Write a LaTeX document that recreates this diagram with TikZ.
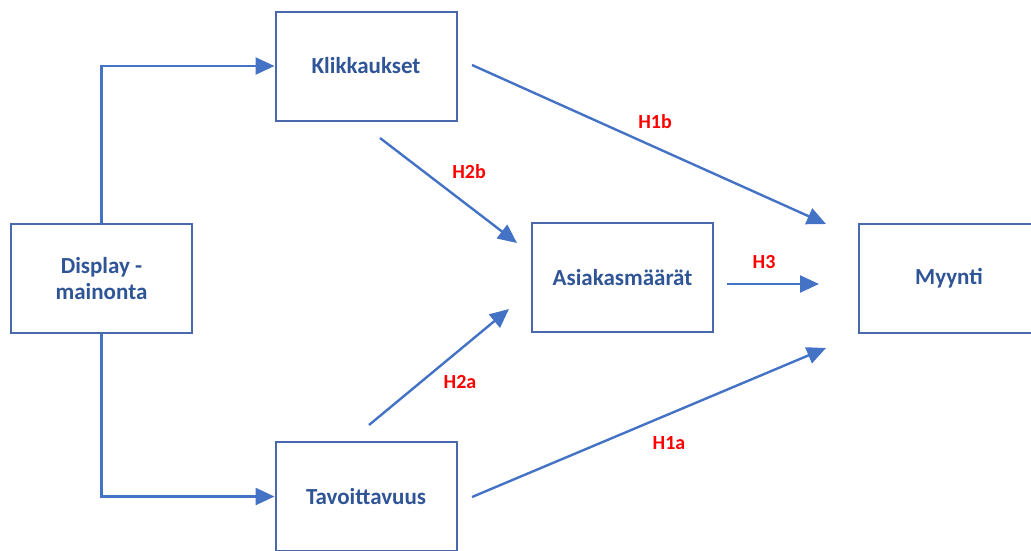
\documentclass[tikz,border=0pt]{standalone}
\usepackage{fontspec}
\setmainfont{Carlito}
\usetikzlibrary{arrows.meta}
\definecolor{boxline}{HTML}{4A69AC}
\definecolor{boxtext}{HTML}{2F5597}
\definecolor{arrowc}{HTML}{4472C4}
\definecolor{hred}{HTML}{FF0000}
\tikzset{
  box/.style={draw=boxline, line width=2pt, fill=white, minimum width=181pt, minimum height=109pt,
    inner sep=0pt, align=center, text=boxtext, font=\fontsize{23}{26}\selectfont\bfseries},
  conn/.style={draw=arrowc, line width=2.4pt, -{Triangle[length=19pt,width=17pt]}},
  hlab/.style={text=hred, font=\fontsize{20}{22}\selectfont\bfseries, inner sep=0pt}
}
\begin{document}
\begin{tikzpicture}[x=1pt,y=-1pt]
\useasboundingbox (0,0) rectangle (1031,550);
\clip (0,0) rectangle (1031,550);
\node[box] (disp) at (101.5,278.5) {Display -\\mainonta};
\node[box] (klik) at (366,66) {Klikkaukset};
\node[box] (asia) at (622.5,277.5) {Asiakasmäärät};
\node[box] (myyn) at (949,278) {Myynti};
\node[box] (tav) at (366,496.5) {Tavoittavuus};

\coordinate (k1s) at (380,138);
\coordinate (k1e) at (517,243);
\coordinate (t1s) at (369,425);
\coordinate (t1e) at (509,309);
\coordinate (k2s) at (472,65);
\coordinate (k2e) at (826,224);
\coordinate (t2s) at (472,497);
\coordinate (t2e) at (826,348);
\coordinate (a1s) at (727,284);
\coordinate (a1e) at (819,284);

\draw[conn] (disp.north) |- (klik.west);
\draw[conn] (disp.south) |- (tav.west);
\draw[conn] (k1s) -- (k1e);
\draw[conn] (t1s) -- (t1e);
\draw[conn] (k2s) -- (k2e);
\draw[conn] (t2s) -- (t2e);
\draw[conn] (a1s) -- (a1e);

\node[hlab] (h1b) at (655,122) {H1b};
\node[hlab] (h2b) at (469,172) {H2b};
\node[hlab] (h3) at (764,262) {H3};
\node[hlab] (h2a) at (460,382) {H2a};
\node[hlab] (h1a) at (669,443) {H1a};
\end{tikzpicture}
\end{document}
